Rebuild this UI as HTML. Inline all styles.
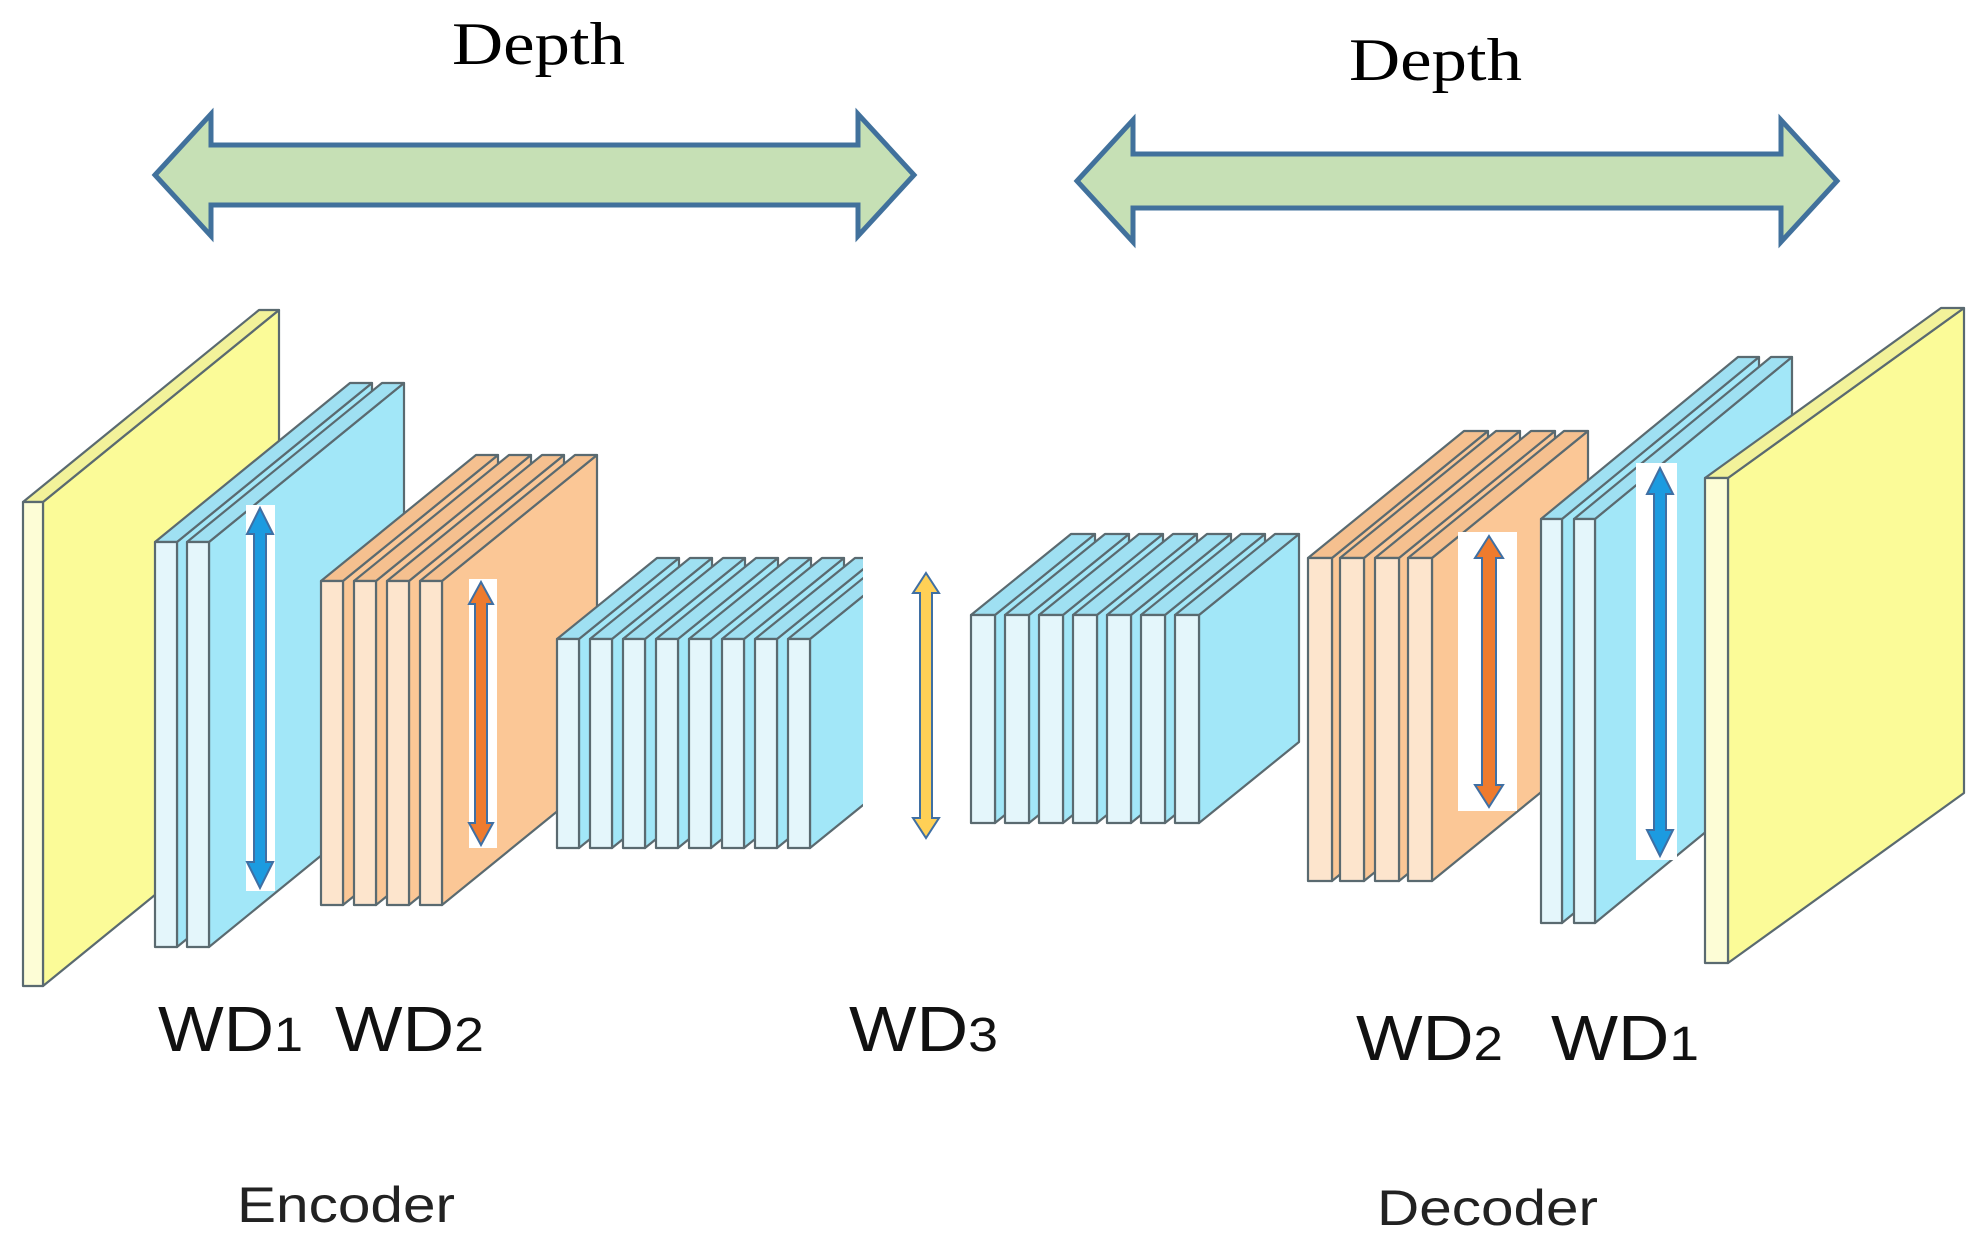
<!DOCTYPE html>
<html><head><meta charset="utf-8"><style>
html,body{margin:0;padding:0;background:#fff;width:1981px;height:1241px;overflow:hidden}
</style></head><body>
<svg id="s" width="1981" height="1241" viewBox="0 0 1981 1241" xmlns="http://www.w3.org/2000/svg">
<defs><clipPath id="c1"><rect x="0" y="0" width="863" height="1241"/></clipPath></defs>
<g id="g"></g>
<g id="gc" clip-path="url(#c1)"></g>
<g id="ga"></g>
<text x="452" y="64" font-family="Liberation Serif, serif" font-size="60" fill="#000" textLength="173" lengthAdjust="spacingAndGlyphs">Depth</text>
<text x="1349" y="80" font-family="Liberation Serif, serif" font-size="60" fill="#000" textLength="173" lengthAdjust="spacingAndGlyphs">Depth</text>
<g font-family="Liberation Sans, sans-serif" font-size="64" fill="#111">
<text x="158" y="1051" textLength="145" lengthAdjust="spacingAndGlyphs">WD<tspan font-size="48">1</tspan></text>
<text x="335" y="1051" textLength="149" lengthAdjust="spacingAndGlyphs">WD<tspan font-size="48">2</tspan></text>
<text x="849" y="1051" textLength="149" lengthAdjust="spacingAndGlyphs">WD<tspan font-size="48">3</tspan></text>
<text x="1356" y="1060" textLength="147" lengthAdjust="spacingAndGlyphs">WD<tspan font-size="48">2</tspan></text>
<text x="1551" y="1060" textLength="148" lengthAdjust="spacingAndGlyphs">WD<tspan font-size="48">1</tspan></text>
</g>
<g font-family="Liberation Sans, sans-serif" font-size="50" fill="#222">
<text x="237" y="1222" textLength="218" lengthAdjust="spacingAndGlyphs">Encoder</text>
<text x="1377" y="1225" textLength="221" lengthAdjust="spacingAndGlyphs">Decoder</text>
</g>
</svg>
<script>
var NS="http://www.w3.org/2000/svg";
function el(p,t,a){var e=document.createElementNS(NS,t);for(var k in a)e.setAttribute(k,a[k]);p.appendChild(e);return e;}
var g=document.getElementById('g'),gc=document.getElementById('gc'),ga=document.getElementById('ga');
var Y={f:'#fdfdd6',s:'#fbfb98',t:'#f2f29a'},B={f:'#e4f6fb',s:'#a2e7f8',t:'#9fe0f2'},O={f:'#fde5cd',s:'#fbc796',t:'#f5c08f'};
function slab(p,x,w,y0,y1,dx,dy,c){
 var st={stroke:'#5a6a70','stroke-width':2.2,'stroke-linejoin':'round'};
 function P(pts,f){var a={points:pts,fill:f};for(var k in st)a[k]=st[k];el(p,'polygon',a);}
 P([x+w,y0,x+w+dx,y0-dy,x+w+dx,y1-dy,x+w,y1].join(' '),c.s);
 P([x,y0,x+dx,y0-dy,x+w+dx,y0-dy,x+w,y0].join(' '),c.t);
 P([x,y0,x+w,y0,x+w,y1,x,y1].join(' '),c.f);
}
slab(g,23,20,502,986,236,192,Y);
[155,187].forEach(function(x){slab(g,x,22,542,947,195,159,B);});
[321,354,387,420].forEach(function(x){slab(g,x,22,581,905,155,126,O);});
for(var i=0;i<8;i++)slab(gc,557+33*i,22,639,848,100,81,B);
for(var i=0;i<7;i++)slab(g,971+34*i,24,615,823,100,81,B);
[1308,1340,1375,1408].forEach(function(x){slab(g,x,24,558,881,156,127,O);});
[1541,1574].forEach(function(x){slab(g,x,21,519,923,197,162,B);});
slab(g,1705,23,478,963,236,170,Y);
function varrow(cx,y0,y1,sw,hw,hl,fill){
 var pts=[cx,y0,cx+hw,y0+hl,cx+sw,y0+hl,cx+sw,y1-hl,cx+hw,y1-hl,cx,y1,cx-hw,y1-hl,cx-sw,y1-hl,cx-sw,y0+hl,cx-hw,y0+hl];
 el(ga,'polygon',{points:pts.join(' '),fill:fill,stroke:'#3f6fa3','stroke-width':2});
}
el(ga,'rect',{x:246,y:505,width:29,height:386,fill:'#fff'});
varrow(260,508,888,6,13,26,'#1c9be0');
el(ga,'rect',{x:469,y:579,width:28,height:269,fill:'#fff'});
varrow(481,582,845,6,12,22,'#ee7b2e');
varrow(926,573,838,6,13,20,'#ffd056');
el(ga,'rect',{x:1458,y:532,width:59,height:279,fill:'#fff'});
varrow(1489,536,807,7,14,22,'#ee7b2e');
el(ga,'rect',{x:1636,y:463,width:41,height:397,fill:'#fff'});
varrow(1660,468,856,6,13,26,'#1c9be0');
function harrow(x0,x1,yc,sh,hh,hx){
 var pts=[x0,yc,x0+hx,yc-hh,x0+hx,yc-sh,x1-hx,yc-sh,x1-hx,yc-hh,x1,yc,x1-hx,yc+hh,x1-hx,yc+sh,x0+hx,yc+sh,x0+hx,yc+hh];
 el(ga,'polygon',{points:pts.join(' '),fill:'#c6e0b5',stroke:'#41719c','stroke-width':5,'stroke-linejoin':'miter'});
}
harrow(155,914,175,30,61,56);
harrow(1077,1837,181,27,61,56);
</script>
</body></html>
